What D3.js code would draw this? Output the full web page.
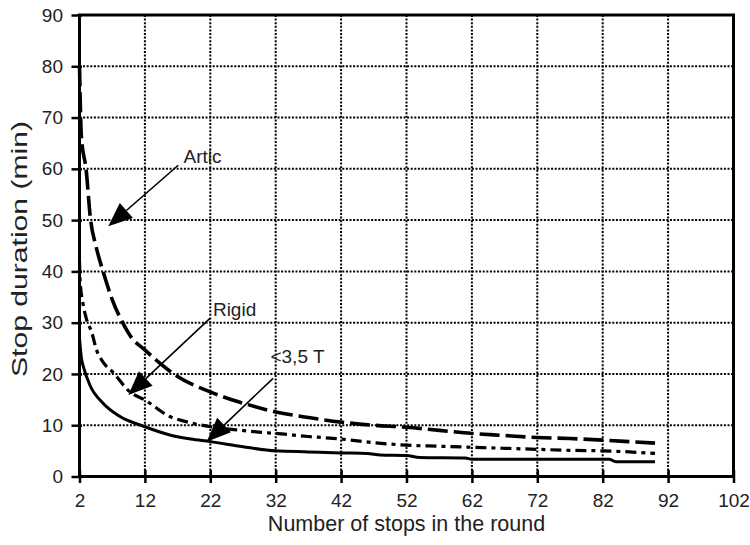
<!DOCTYPE html>
<html><head><meta charset="utf-8">
<script src="https://cdn.jsdelivr.net/npm/d3@7"></script>
<style>
html,body{margin:0;padding:0;background:#fff;}
text{font-family:"Liberation Sans",Arial,sans-serif;fill:#222;}
</style></head>
<body>
<svg id="c" width="750" height="545"></svg>
<script>
const xTicks = [2,12,22,32,42,52,62,72,82,92,102];
const yTicks = [0,10,20,30,40,50,60,70,80,90];

const articX = [2,2.3,3,3.7,4.5,5.6,7,8.6,10,12,14,17,22,27,32,37,42,47,52,57,62,67,72,77,82,86,90];
const articY = [80,66,60,50,45,40,34.5,30,27,24.7,22.4,19.5,16.5,14.3,12.6,11.5,10.6,10,9.6,9,8.4,8,7.6,7.4,7.1,6.8,6.5];

const rigidX = [2,2.1,2.5,3,3.9,4.6,5.5,7.2,9.7,12,15.8,18,22,26,29,32,37,42,47,52,57,62,67,72,77,82,86,90];
const rigidY = [42,38,34,31,28,24.7,22.5,20.2,16.5,14.9,11.7,10.8,9.7,9.1,8.7,8.4,7.8,7.3,6.6,6.1,5.9,5.7,5.5,5.3,5.1,5.0,4.8,4.5];

const smallX = [2,2.3,2.6,3.6,5.6,8.2,12,15.8,19,22,27,32,37,42,46,48,52,54,61,62,83,84,90];
const smallY = [27,23,21.4,17.8,14.3,11.7,9.7,8.1,7.3,6.8,5.8,5.0,4.8,4.6,4.5,4.2,4.1,3.7,3.6,3.35,3.35,2.9,2.9];

const labels = ["Artic","Rigid","<3,5 T"];
const labelX = [17.9,22.4,31.2];
const labelY = [61.2,31.3,22.2];
const arrowFromX = [17.1,21.95,31.6];
const arrowFromY = [60.7,30.85,19.15];
const arrowToX = [6.4,9.46,21.45];
const arrowToY = [48.8,15.9,6.8];

const svg = d3.select("#c");
const x = d3.scaleLinear().domain([2,102]).range([79.5,733.5]);
const y = d3.scaleLinear().domain([0,90]).range([476.5,15]);

// grid
const g = svg.append("g");
g.selectAll(".vg").data(xTicks.slice(1,-1)).enter().append("line")
  .attr("x1",d=>x(d)).attr("x2",d=>x(d)).attr("y1",y(90)).attr("y2",y(0))
  .attr("stroke","#000").attr("stroke-width",2).attr("stroke-dasharray","2,1.6");
g.selectAll(".hg").data(yTicks.slice(1,-1)).enter().append("line")
  .attr("x1",x(2)).attr("x2",x(102)).attr("y1",d=>y(d)).attr("y2",d=>y(d))
  .attr("stroke","#000").attr("stroke-width",2).attr("stroke-dasharray","2,1.6");

// curves
const line = d3.line().x(d=>x(d[0])).y(d=>y(d[1])).curve(d3.curveMonotoneX);
const zip = (a,b)=>a.map((v,i)=>[v,b[i]]);
svg.append("path").attr("d",line(zip(smallX,smallY))).attr("fill","none")
  .attr("stroke","#000").attr("stroke-width",3);
svg.append("path").attr("d",line(zip(rigidX,rigidY))).attr("fill","none")
  .attr("stroke","#000").attr("stroke-width",3.2).attr("stroke-dasharray","11,5,4,5");
svg.append("path").attr("d",line(zip(articX,articY))).attr("fill","none")
  .attr("stroke","#000").attr("stroke-width",3.6).attr("stroke-dasharray","20,6");

// axes
const xa = svg.append("g").attr("transform",`translate(0,${y(0)})`)
  .call(d3.axisBottom(x).tickValues(xTicks).tickSize(6.5).tickPadding(10).tickFormat(d3.format("d")));
xa.select(".domain").remove();
xa.selectAll(".tick line").attr("y1",-6.5).attr("y2",6.5).attr("stroke","#000").attr("stroke-width",2.5);
xa.selectAll(".tick text").attr("font-size",19).attr("fill","#222").attr("dy","0.75em");

const ya = svg.append("g").attr("transform",`translate(${x(2)},0)`)
  .call(d3.axisLeft(y).tickValues(yTicks).tickSize(8).tickPadding(8.5));
ya.select(".domain").remove();
ya.selectAll(".tick line").attr("x2",-8).attr("x1",2.5).attr("stroke","#000").attr("stroke-width",2.5);
ya.selectAll(".tick text").attr("font-size",19).attr("fill","#222");

// frame
svg.append("rect").attr("x",x(2)).attr("y",y(90)).attr("width",x(102)-x(2)).attr("height",y(0)-y(90))
  .attr("fill","none").attr("stroke","#000").attr("stroke-width",3);

// annotations
labels.forEach((t,i)=>{
  const x1=x(arrowFromX[i]), y1=y(arrowFromY[i]), x2=x(arrowToX[i]), y2=y(arrowToY[i]);
  const ang=Math.atan2(y2-y1,x2-x1), L=24, W=10;
  const bx=x2-L*Math.cos(ang), by=y2-L*Math.sin(ang);
  svg.append("line").attr("x1",x1).attr("y1",y1).attr("x2",bx).attr("y2",by)
    .attr("stroke","#000").attr("stroke-width",1.6);
  svg.append("path").attr("d",`M${x2},${y2} L${bx+W*Math.sin(ang)},${by-W*Math.cos(ang)} L${bx-W*Math.sin(ang)},${by+W*Math.cos(ang)} Z`)
    .attr("fill","#000");
  svg.append("text").attr("x",x(labelX[i])).attr("y",y(labelY[i])).attr("font-size",19).text(t);
});

// titles
svg.append("text").attr("x",x(52)).attr("y",531).attr("text-anchor","middle")
  .attr("font-size",21.5).text("Number of stops in the round");
svg.append("text").attr("transform","translate(27,377) rotate(-90)")
  .attr("font-size",21.5).attr("textLength",256).attr("lengthAdjust","spacingAndGlyphs")
  .text("Stop duration (min)");
</script>
</body></html>
